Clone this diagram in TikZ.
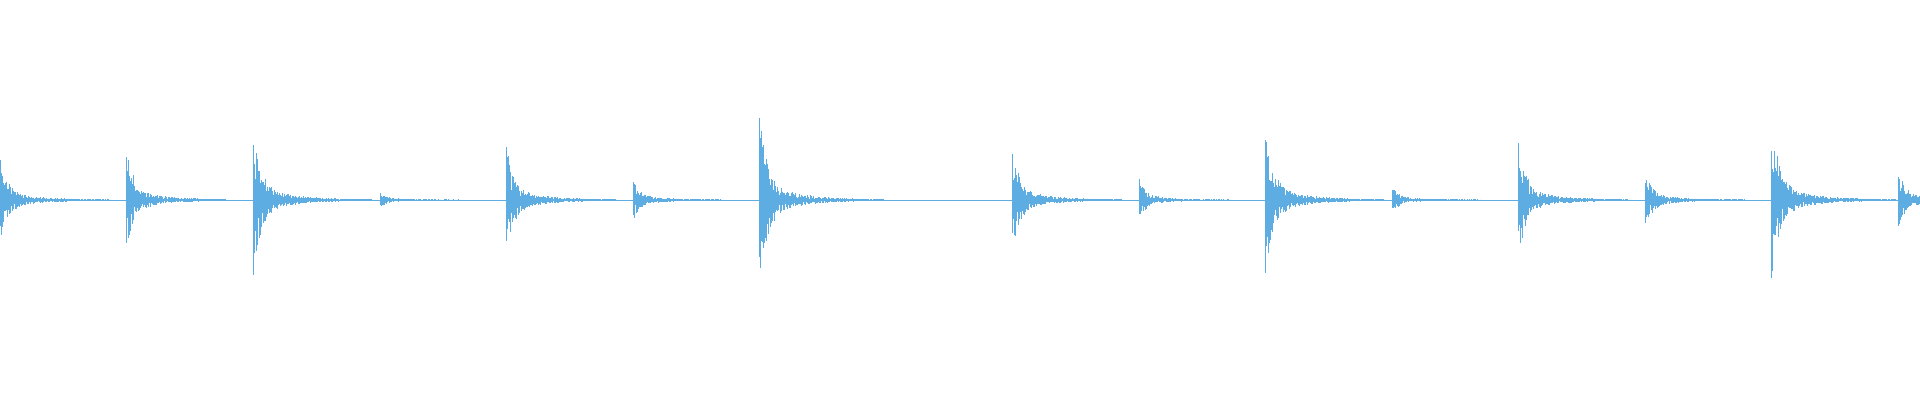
\documentclass[tikz,border=0pt]{standalone}
\definecolor{wave}{RGB}{93,173,226}
\begin{document}
\begin{tikzpicture}[x=1pt,y=1pt,wv/.style={draw=wave,line width=0.8pt}]
\useasboundingbox (0,0) rectangle (1920,400);
\clip (0,0) rectangle (1920,400);
\pgfmathsetseed{7}
\draw[wv,line width=0.7pt] (0,200) -- (1920,200);
\foreach \x/\A/\L in {0/36/110, 126/46/100, 253/65/120, 380/6/80, 506/48/110, 633/17/90, 759/80/125, 1012/46/110, 1139/17/90, 1265/65/120, 1392/11/90, 1518/52/110, 1645/24/100, 1771/72/125, 1898/26/30}{
  \foreach \t in {0,0.6,...,\L}{
    \pgfmathsetmacro\a{\A*exp(-\t/7)+0.22*\A*exp(-\t/35)+0.4}
    \pgfmathsetmacro\up{\a*(0.3+0.7*rnd)}
    \pgfmathsetmacro\dn{\a*(0.3+0.7*rnd)}
    \draw[wv] (\x+\t,200+\up) -- (\x+\t,200-\dn);
  }
}
\end{tikzpicture}
\end{document}
